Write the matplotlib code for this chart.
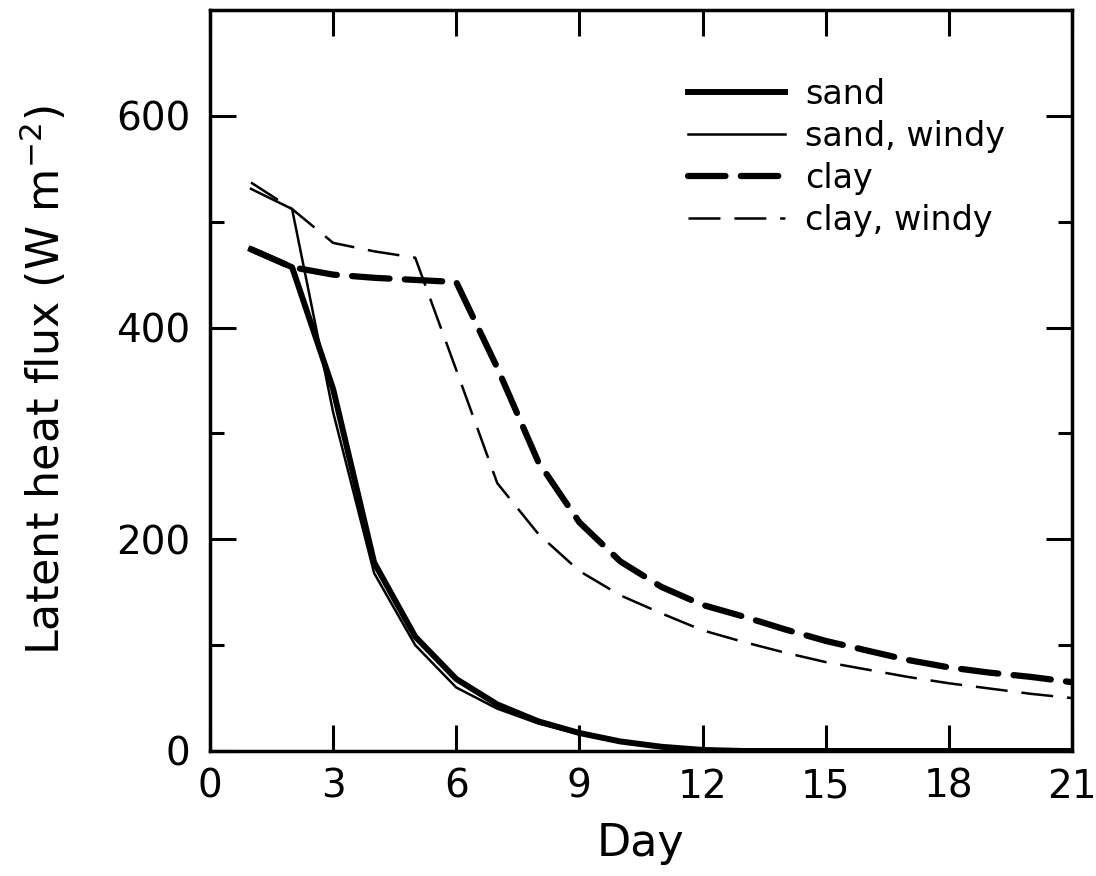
import numpy as np
import matplotlib
matplotlib.use("Agg")
import matplotlib.pyplot as plt
from matplotlib.ticker import MultipleLocator

# values, one per day
days = list(range(1, 22))
sand = [474, 457, 342, 178, 108, 68, 44, 28, 17, 9, 4, 1, 0, 0, 0, 0, 0, 0, 0, 0, 0]
sand_windy = [531, 512, 320, 168, 100, 60, 40, 26, 16, 8, 3, 1, 0, 0, 0, 0, 0, 0, 0, 0, 0]
clay = [474, 457, 450, 447, 445, 443, 362, 273, 216, 179, 155, 138, 127, 115, 104, 95, 86, 79, 74, 70, 65]
clay_windy = [537, 512, 480, 472, 466, 360, 253, 205, 170, 147, 130, 114, 103, 93, 84, 77, 70, 64, 59, 54, 50]

x_ticks = list(range(0, 22, 3))
y_ticks = [0, 200, 400, 600]

plt.rcParams['font.family'] = ['DejaVu Sans']
plt.rcParams['lines.scale_dashes'] = False

fig = plt.figure(figsize=(10.96, 8.76), dpi=100)
ax = fig.add_axes([0.1916, 0.1427, 0.978 - 0.1916, 0.9886 - 0.1427])

ax.plot(days, sand, color='black', lw=4.3, solid_joinstyle='round', label='sand')
ax.plot(days, sand_windy, color='black', lw=1.8, label='sand, windy')
ax.plot(days, clay, color='black', lw=4.5, dashes=(27, 11), dash_capstyle='round', label='clay')
ax.plot(days, clay_windy, color='black', lw=1.8, dashes=(23, 10), label='clay, windy')

ax.set_xlim(0, 21)
ax.set_ylim(0, 700)
ax.set_xticks(x_ticks)
ax.set_yticks(y_ticks)
ax.yaxis.set_minor_locator(MultipleLocator(100))

for s in ax.spines.values():
    s.set_linewidth(2.5)

ax.tick_params(which='major', direction='in', length=19, width=2.2,
               top=True, right=True, labelsize=28, pad=12)
ax.tick_params(which='minor', direction='in', length=10, width=2.2,
               top=False, right=True)
ax.tick_params(axis='y', which='major', pad=14)

ax.set_xlabel('Day', fontsize=32, labelpad=12)
ax.set_ylabel(r'Latent heat flux (W m$^{-2}$)', fontsize=32, labelpad=34)

ax.legend(loc='upper left', bbox_to_anchor=(0.628, 0.911), bbox_transform=fig.transFigure,
          frameon=False, fontsize=24, handlelength=2.9, handletextpad=0.6,
          labelspacing=0.27, borderpad=0, borderaxespad=0)

fig.savefig('out.png', dpi=100)
